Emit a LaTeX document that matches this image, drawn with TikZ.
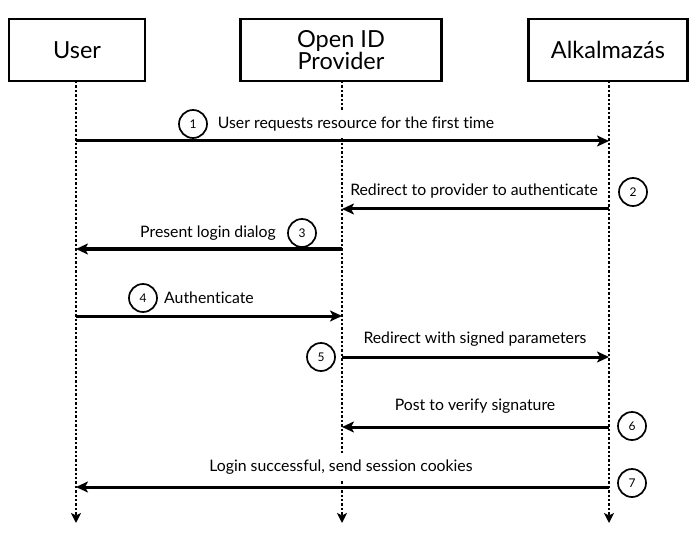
\documentclass[tikz,border=0pt]{standalone}
\usepackage{fontspec}
\setmainfont{Lato}[Ligatures=CommonOff]
\usetikzlibrary{arrows.meta}
\begin{document}
\begin{tikzpicture}[x=1pt,y=-1pt,
  actor/.style={draw,line width=2.2pt,minimum height=62pt,align=center,
    font=\fontsize{23.5}{25}\selectfont,inner sep=0pt},
  lifeline/.style={line width=2.8pt,dash pattern=on 2.4pt off 2pt,
    -{Stealth[length=10pt,width=10pt,inset=2.5pt]}},
  msg/.style={line width=3pt,-{Stealth[length=12pt,width=11pt,inset=3pt]}},
  lbl/.style={font=\fontsize{15.8}{17}\selectfont,inner sep=1pt},
  over/.style={lbl,fill=white,inner xsep=2pt,inner ysep=7pt},
  num/.style={draw,circle,line width=1.7pt,minimum size=28pt,inner sep=0pt,
    font=\fontsize{12}{13}\selectfont}]
\useasboundingbox (0,0) rectangle (698,545);
% actors
\node[actor,minimum width=136pt] (user) at (77,50) {User};
\node[actor,minimum width=201pt] (prov) at (341,50) {Open ID\\[-3pt]Provider};
\node[actor,minimum width=159pt] (app) at (608,50) {Alkalmazás};
% lifeline ends
\coordinate (ue) at (76,523);
\coordinate (pe) at (342,523);
\coordinate (ae) at (609,523);
\draw[lifeline] (76,81) -- (ue);
\draw[lifeline] (342,81) -- (pe);
\draw[lifeline] (609,81) -- (ae);
% message points
\coordinate (u1) at (76,141);   \coordinate (a1) at (609,141);
\coordinate (a2) at (609,209);  \coordinate (p2) at (342,209);
\coordinate (p3) at (342,249);  \coordinate (u3) at (76,249);
\coordinate (u4) at (76,316);   \coordinate (p4) at (342,316);
\coordinate (p5) at (342,357);  \coordinate (a5) at (609,357);
\coordinate (a6) at (609,427);  \coordinate (p6) at (342,427);
\coordinate (a7) at (609,487);  \coordinate (u7) at (76,487);
% labels first (white ones cover lifelines)
\node[over] (t1) at (356,124) {User requests resource for the first time};
\node[over] (t7) at (341,467) {Login successful, send session cookies};
\node[lbl] (t2) at (474,191) {Redirect to provider to authenticate};
\node[lbl] (t3) at (208,233) {Present login dialog};
\node[lbl] (t4) at (209,298) {Authenticate};
\node[lbl] (t5) at (475,339) {Redirect with signed parameters};
\node[lbl] (t6) at (475,406) {Post to verify signature};
% numbers
\node[num] (n1) at (193,124) {1};
\node[num] (n2) at (633,192) {2};
\node[num] (n3) at (302,233) {3};
\node[num] (n4) at (143,298) {4};
\node[num] (n5) at (321,357) {5};
\node[num] (n6) at (632,426) {6};
\node[num] (n7) at (632,483) {7};
% messages
\draw[msg] (u1) -- (a1);
\draw[msg] (a2) -- (p2);
\draw[msg] (p3) -- (u3);
\draw[msg] (u4) -- (p4);
\draw[msg] (p5) -- (a5);
\draw[msg] (a6) -- (p6);
\draw[msg] (a7) -- (u7);
\end{tikzpicture}
\end{document}
